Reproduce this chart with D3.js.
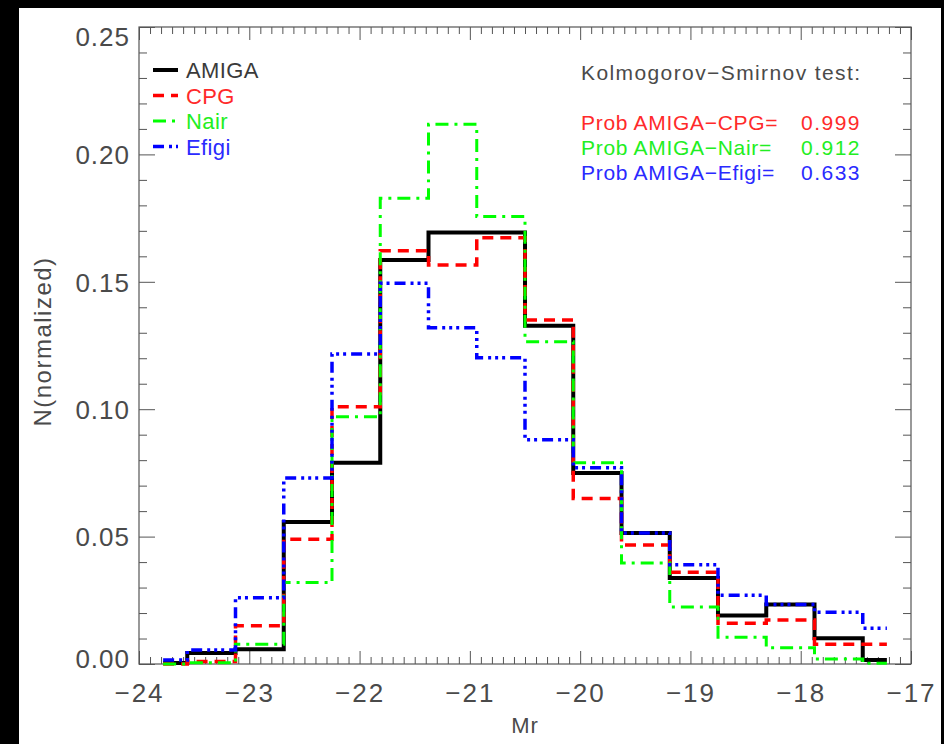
<!DOCTYPE html>
<html><head><meta charset="utf-8">
<script src="https://cdn.jsdelivr.net/npm/d3@7"></script>
<style>body{margin:0;background:#000;} svg{display:block}</style>
</head><body><svg id="c" width="944" height="744"></svg>
<script>
// ---- data ----
const binCenters = [-23.78125, -23.34375, -22.90625, -22.46875, -22.03125, -21.59375, -21.15625, -20.71875,
                    -20.28125, -19.84375, -19.40625, -18.96875, -18.53125, -18.09375, -17.65625, -17.21875];
const amigaValues = [0.0004, 0.0043, 0.0058, 0.0557, 0.0790, 0.1586, 0.1693, 0.1693, 0.1328, 0.0750, 0.0514, 0.0338, 0.0190, 0.0234, 0.0101, 0.0016];
const cpgValues   = [0.0000, 0.0010, 0.0150, 0.0490, 0.1010, 0.1622, 0.1566, 0.1673, 0.1350, 0.0650, 0.0467, 0.0360, 0.0160, 0.0173, 0.0078, 0.0078];
const nairValues  = [0.0000, 0.0005, 0.0078, 0.0320, 0.0970, 0.1828, 0.2118, 0.1756, 0.1265, 0.0790, 0.0396, 0.0224, 0.0105, 0.0064, 0.0020, 0.0003];
const efigiValues = [0.0016, 0.0055, 0.0260, 0.0730, 0.1217, 0.1494, 0.1320, 0.1202, 0.0880, 0.0770, 0.0514, 0.0390, 0.0270, 0.0234, 0.0203, 0.0140];
const seriesNames = ["AMIGA", "CPG", "Nair", "Efigi"];
const xTickValues = [-24, -23, -22, -21, -20, -19, -18, -17];
const yTickValues = [0.00, 0.05, 0.10, 0.15, 0.20, 0.25];
const ksTitle = "Kolmogorov\u2212Smirnov test:";
const ksLabels = ["Prob AMIGA\u2212CPG=", "Prob AMIGA\u2212Nair=", "Prob AMIGA\u2212Efigi="];
const ksValues = ["0.999", "0.912", "0.633"];
const xTitle = "Mr";
const yTitle = "N(normalized)";

// ---- layout ----
const W = 944, H = 744;
const L = 139, R = 911, T = 27, B = 664;
const FONT = "'Liberation Sans', Arial, sans-serif";
const TXT = "#4a4a4a";
const AX = "#555";

const svg = d3.select("#c");
svg.append("rect").attr("x", 0).attr("y", 0).attr("width", W).attr("height", H).attr("fill", "#000");
svg.append("rect").attr("x", 19).attr("y", 8).attr("width", 922).attr("height", H - 8).attr("fill", "#fff");

const x = d3.scaleLinear().domain([-24, -17]).range([L, R]);
const y = d3.scaleLinear().domain([0, 0.25]).range([B, T]);

const styles = [
  {color: "#000000", text: "#3a3a3a", dash: null, width: 4},
  {color: "#ff0000", text: "#ff2a2a", dash: "11,7", width: 3.5},
  {color: "#00ff00", text: "#22ee22", dash: "13,6,3,6", width: 3},
  {color: "#0000ff", text: "#2a2aff", dash: "11,5,3,4,3,4,3,5", width: 3.5}
];
const allValues = [amigaValues, cpgValues, nairValues, efigiValues];

// ---- axes (ticks inward, IDL style) ----
const xMinor = d3.range(-240, -169).map(v => v / 10).filter(v => !xTickValues.includes(v));
const yMinor = d3.range(0, 26).map(v => v / 100).filter(v => !yTickValues.some(t => Math.abs(t - v) < 1e-9));

function styleAxis(g) {
  g.select(".domain").remove();
  g.selectAll("line").attr("stroke", AX).attr("stroke-width", 1);
}
// bottom major
const gxb = svg.append("g").attr("transform", `translate(0,${B})`)
  .call(d3.axisBottom(x).tickValues(xTickValues).tickSize(-13).tickFormat(d3.format("d")));
styleAxis(gxb);
gxb.selectAll("text").attr("y", 38).attr("dy", null).attr("font-family", FONT).attr("font-size", 26)
  .attr("letter-spacing", 2).attr("fill", TXT);
svg.append("g").attr("transform", `translate(0,${B})`)
  .call(d3.axisBottom(x).tickValues(xMinor).tickSize(-7).tickFormat("")).call(styleAxis);
// top
svg.append("g").attr("transform", `translate(0,${T})`)
  .call(d3.axisTop(x).tickValues(xTickValues).tickSize(-13).tickFormat("")).call(styleAxis);
svg.append("g").attr("transform", `translate(0,${T})`)
  .call(d3.axisTop(x).tickValues(xMinor).tickSize(-7).tickFormat("")).call(styleAxis);
// left
const gyl = svg.append("g").attr("transform", `translate(${L},0)`)
  .call(d3.axisLeft(y).tickValues(yTickValues).tickSize(-16).tickFormat(d3.format(".2f")));
styleAxis(gyl);
gyl.selectAll(".tick").each(function(d) {
  const yy = y(d);
  const c = Math.max(T + 9, Math.min(B - 6, yy));
  d3.select(this).select("text").attr("x", -9).attr("y", c - yy).attr("dy", "0.36em");
});
gyl.selectAll("text").attr("font-family", FONT).attr("font-size", 26).attr("letter-spacing", 1)
  .attr("fill", TXT).attr("text-anchor", "end");
svg.append("g").attr("transform", `translate(${L},0)`)
  .call(d3.axisLeft(y).tickValues(yMinor).tickSize(-8).tickFormat("")).call(styleAxis);
// right
svg.append("g").attr("transform", `translate(${R},0)`)
  .call(d3.axisRight(y).tickValues(yTickValues).tickSize(-16).tickFormat("")).call(styleAxis);
svg.append("g").attr("transform", `translate(${R},0)`)
  .call(d3.axisRight(y).tickValues(yMinor).tickSize(-8).tickFormat("")).call(styleAxis);

// frame
svg.append("rect").attr("x", L).attr("y", T).attr("width", R - L).attr("height", B - T)
  .attr("fill", "none").attr("stroke", AX).attr("stroke-width", 1.2);

// ---- histograms (psym=10 style steps) ----
const line = d3.line().x(d => x(d[0])).y(d => y(d[1])).curve(d3.curveStep);
allValues.forEach((vals, i) => {
  const pts = binCenters.map((c, k) => [c, vals[k]]);
  const p = svg.append("path").attr("d", line(pts)).attr("fill", "none")
    .attr("stroke", styles[i].color).attr("stroke-width", styles[i].width)
    .attr("stroke-linejoin", "miter");
  if (styles[i].dash) p.attr("stroke-dasharray", styles[i].dash);
});

// ---- legend ----
seriesNames.forEach((name, i) => {
  const ly = 70 + i * 25.5;
  const s = styles[i];
  const l = svg.append("line").attr("x1", 153).attr("x2", 178).attr("y1", ly).attr("y2", ly)
    .attr("stroke", s.color).attr("stroke-width", s.width);
  if (s.dash) l.attr("stroke-dasharray", s.dash);
  svg.append("text").attr("x", 186).attr("y", ly + 8).text(name)
    .attr("font-family", FONT).attr("font-size", 22).attr("letter-spacing", 0.4)
    .attr("fill", s.text);
});

// ---- KS text ----
svg.append("text").attr("x", 581).attr("y", 80).text(ksTitle)
  .attr("font-family", FONT).attr("font-size", 21).attr("letter-spacing", 1.4).attr("fill", TXT);
ksLabels.forEach((t, i) => {
  const by = 130 + i * 25;
  const col = styles[i + 1].text;
  svg.append("text").attr("x", 581).attr("y", by).text(t)
    .attr("font-family", FONT).attr("font-size", 21).attr("letter-spacing", 0.7).attr("fill", col);
  svg.append("text").attr("x", 801).attr("y", by).text(ksValues[i])
    .attr("font-family", FONT).attr("font-size", 21).attr("letter-spacing", 1.5).attr("fill", col);
});

// ---- axis titles ----
svg.append("text").attr("x", (L + R) / 2).attr("y", 733).attr("text-anchor", "middle").text(xTitle)
  .attr("font-family", FONT).attr("font-size", 22).attr("letter-spacing", 1).attr("fill", TXT);
svg.append("text").attr("transform", `translate(51,${(T + B) / 2 - 4}) rotate(-90)`)
  .attr("text-anchor", "middle").text(yTitle)
  .attr("font-family", FONT).attr("font-size", 24).attr("letter-spacing", 1.5).attr("fill", TXT);
</script></body></html>
